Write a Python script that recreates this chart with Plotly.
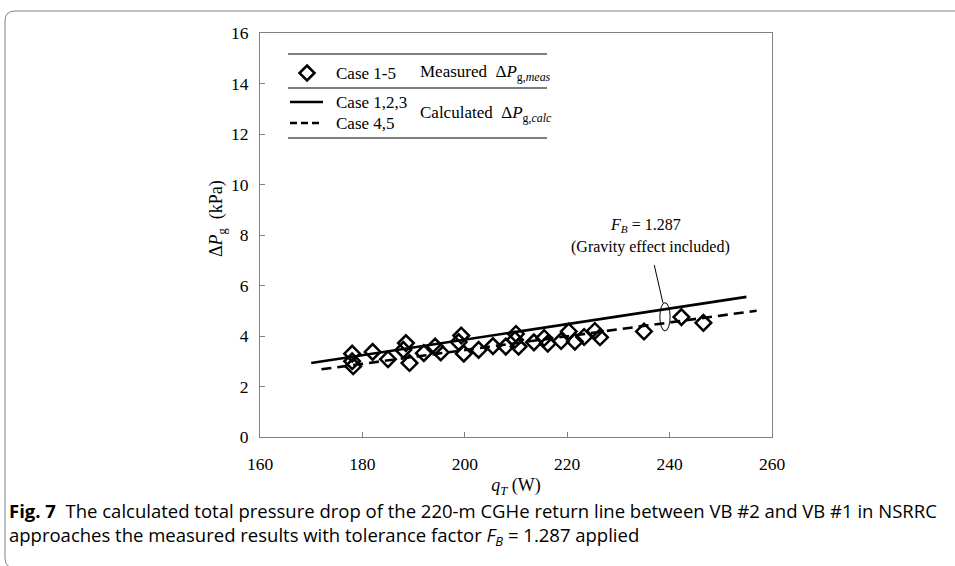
import plotly.graph_objects as go

# Measured data (Case 1-5)
meas_q = [178.0, 178.0, 178.2, 182.0, 185.0, 188.0, 188.5, 189.2, 192.0, 194.2,
          195.3, 198.8, 199.3, 199.8, 202.7, 205.5, 208.0, 209.8, 210.0, 210.5,
          213.5, 215.5, 216.2, 218.8, 220.3, 221.5, 223.3, 225.4, 226.4, 235.0,
          242.3, 246.6]
meas_dp = [3.30, 3.00, 2.80, 3.37, 3.08, 3.45, 3.72, 2.93, 3.32, 3.58,
           3.35, 3.76, 4.02, 3.30, 3.45, 3.60, 3.58, 3.85, 4.08, 3.58,
           3.75, 3.92, 3.70, 3.80, 4.18, 3.78, 3.96, 4.20, 3.95, 4.18,
           4.75, 4.52]

# Calculated lines
calc123_q = [170.0, 255.0]
calc123_dp = [2.93, 5.55]
calc45_q = [172.0, 257.0]
calc45_dp = [2.68, 5.00]

x_ticks = [160, 180, 200, 220, 240, 260]
y_ticks = [0, 2, 4, 6, 8, 10, 12, 14, 16]

SERIF = "Liberation Serif"
SANS = "Open Sans"
AX = "#808080"

fig = go.Figure()
fig.add_trace(go.Scatter(x=calc123_q, y=calc123_dp, mode="lines",
                         line=dict(color="black", width=2.6), showlegend=False))
fig.add_trace(go.Scatter(x=calc45_q, y=calc45_dp, mode="lines",
                         line=dict(color="black", width=2.6, dash="10px,6px"), showlegend=False))
fig.add_trace(go.Scatter(x=meas_q, y=meas_dp, mode="markers",
                         marker=dict(symbol="diamond-open", size=12, color="black",
                                     line=dict(color="black", width=2.5)),
                         showlegend=False))

fig.update_layout(
    width=955, height=566,
    margin=dict(l=260, r=183, t=33, b=129),
    paper_bgcolor="white", plot_bgcolor="white",
    font=dict(family=SERIF, size=16, color="black"),
    showlegend=False,
)
fig.update_xaxes(range=[160, 260], tickvals=x_ticks, ticks="inside", ticklen=5,
                 tickcolor=AX, showline=True, linecolor=AX, linewidth=1, mirror=True,
                 showgrid=False, zeroline=False, tickfont=dict(size=17.5, family=SERIF),
                 ticklabelstandoff=11,
                 title=dict(text="<i>q<sub>T</sub></i> (W)", font=dict(size=18, family=SERIF),
                            standoff=5))
fig.update_yaxes(range=[0, 16], tickvals=y_ticks, ticks="inside", ticklen=5,
                 tickcolor=AX, showline=True, linecolor=AX, linewidth=1, mirror=True,
                 showgrid=False, zeroline=False, tickfont=dict(size=17.5, family=SERIF),
                 ticklabelstandoff=7)

# y-axis title as annotation (rotated)
fig.add_annotation(xref="paper", yref="paper", x=-0.108, y=0.54, showarrow=False,
                   text="Δ<i>P</i><sub>g</sub>  (kPa)", textangle=-90,
                   font=dict(size=18, family=SERIF))

# Ellipse and leader line
fig.add_shape(type="circle", xref="x", yref="y", x0=238.1, x1=240.1, y0=4.2, y1=5.32,
              line=dict(color="black", width=1))
fig.add_shape(type="line", xref="x", yref="y", x0=238.7, y0=5.31, x1=237.0, y1=6.81,
              line=dict(color="black", width=1))
fig.add_annotation(xref="x", yref="y", x=235.2, y=8.36, showarrow=False,
                   text="<i>F<sub>B</sub></i> = 1.287", font=dict(size=16, family=SERIF))
fig.add_annotation(xref="x", yref="y", x=236.2, y=7.52, showarrow=False,
                   text="(Gravity effect included)", font=dict(size=16, family=SERIF))

# Legend box (manual)
def px(xp):
    return (xp - 260) / 512.0
def py(yp):
    return (437 - yp) / 404.0

for yy in (54, 88, 138):
    fig.add_shape(type="line", xref="paper", yref="paper", x0=px(288), x1=px(547),
                  y0=py(yy), y1=py(yy), line=dict(color="black", width=1.2))
# diamond sample
cx, cy, hw = 307, 73, 7.5
fig.add_shape(type="path", xref="paper", yref="paper",
              path=f"M {px(cx)} {py(cy-hw)} L {px(cx+hw)} {py(cy)} L {px(cx)} {py(cy+hw)} L {px(cx-hw)} {py(cy)} Z",
              line=dict(color="black", width=2.5))
fig.add_shape(type="line", xref="paper", yref="paper", x0=px(290), x1=px(323),
              y0=py(102), y1=py(102), line=dict(color="black", width=2.6))
fig.add_shape(type="line", xref="paper", yref="paper", x0=px(290), x1=px(323),
              y0=py(123), y1=py(123), line=dict(color="black", width=2.6, dash="7px,4px"))

leg = [
    (334, 73, "Case 1-5"),
    (418, 73, "Measured  Δ<i>P</i><sub>g,<i>meas</i></sub>"),
    (334, 102, "Case 1,2,3"),
    (334, 124, "Case 4,5"),
    (418, 114, "Calculated  Δ<i>P</i><sub>g,<i>calc</i></sub>"),
]
for lx, ly, t in leg:
    fig.add_annotation(xref="paper", yref="paper", x=px(lx), y=py(ly), xanchor="left",
                       yanchor="middle", showarrow=False, text=t,
                       font=dict(size=17, family=SERIF))

# Outer frame
L, T, B, R, r = 5, 11, 568, 975, 10
path = (f"M {px(R)} {py(T)} L {px(L + r)} {py(T)} Q {px(L)} {py(T)} {px(L)} {py(T + r)} "
        f"L {px(L)} {py(B - r)} Q {px(L)} {py(B)} {px(L + r)} {py(B)} L {px(R)} {py(B)}")
fig.add_shape(type="path", xref="paper", yref="paper", path=path,
              line=dict(color="#808080", width=1))

# Caption
fig.add_annotation(xref="paper", yref="paper", x=px(7), y=py(510), xanchor="left",
                   yanchor="middle", showarrow=False,
                   text="<b>Fig. 7</b>  The calculated total pressure drop of the 220-m CGHe return line between VB #2 and VB #1 in NSRRC",
                   font=dict(size=18.5, family=SANS))
fig.add_annotation(xref="paper", yref="paper", x=px(7), y=py(536), xanchor="left",
                   yanchor="middle", showarrow=False,
                   text="approaches the measured results with tolerance factor <i>F<sub>B</sub></i> = 1.287 applied",
                   font=dict(size=18.5, family=SANS))

fig.write_html("out.html")
